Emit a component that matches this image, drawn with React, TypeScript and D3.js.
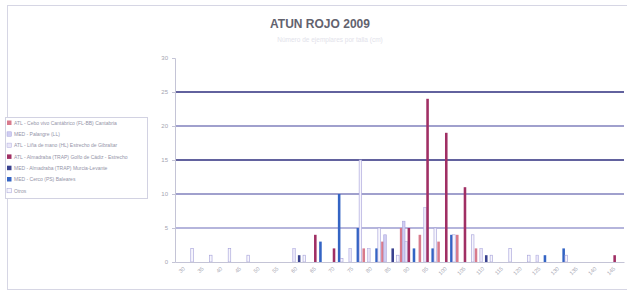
import React, { useEffect, useRef } from 'react';
import * as d3 from 'd3';

// Fish sizes (cm) on the category axis
const categories = ['30', '35', '40', '45', '50', '55', '60', '65', '70', '75', '80', '85',
	'90', '95', '100', '105', '110', '115', '120', '125', '130', '135', '140', '145'];

const seriesNames = [
	'ATL - Cebo vivo Cantábrico (FL-BB) Cantabria',
	'MED - Palangre (LL)',
	'ATL - Liña de mano (HL) Estrecho de Gibraltar',
	'ATL - Almadraba (TRAP) Golfo de Cádiz - Estrecho',
	'MED - Almadraba (TRAP) Murcia-Levante',
	'MED - Cerco (PS) Baleares',
	'Otros',
];

const pinkValues = [0, 0, 0, 0, 0, 0, 0, 0, 0, 0, 2, 3, 5, 4, 3, 4, 2, 0, 0, 0, 0, 0, 0, 0];
const periwinkleValues = [0, 0, 0, 0, 0, 0, 0, 0, 0, 0, 0, 4, 6, 0, 0, 0, 0, 0, 0, 0, 0, 0, 0, 0];
const lavenderValues = [0, 0, 0, 0, 0, 0, 2, 0, 0, 2, 2, 0, 3, 8, 0, 0, 2, 0, 0, 1, 0, 0, 0, 0];
const crimsonValues = [0, 0, 0, 0, 0, 0, 0, 4, 2, 0, 0, 0, 5, 24, 19, 11, 0, 0, 0, 0, 0, 0, 0, 1];
const navyValues = [0, 0, 0, 0, 0, 0, 1, 0, 0, 0, 0, 2, 0, 0, 0, 0, 1, 0, 0, 0, 0, 0, 0, 0];
const blueValues = [0, 0, 0, 0, 0, 0, 0, 3, 10, 5, 2, 0, 2, 2, 4, 0, 0, 0, 0, 1, 2, 0, 0, 0];
const whiteValues = [2, 1, 2, 1, 0, 0, 1, 0, 0.5, 15, 5, 1, 0, 5, 4, 4, 1, 2, 1, 0, 1, 0, 0, 0];

const yTicks = [0, 5, 10, 15, 20, 25, 30];

const seriesValues = [pinkValues, periwinkleValues, lavenderValues, crimsonValues,
	navyValues, blueValues, whiteValues];
const seriesFill = ['#d87a8c', '#cfcdf2', '#e9e6f8', '#a02f64', '#3a428f', '#3464c4', '#f7f6fd'];
const seriesStroke = [null, '#a9a5dc', '#b2aee0', null, null, null, '#a29ed8'];

const FONT = '"Liberation Sans", Arial, sans-serif';

const drawChart = (node) => {
	const svg = d3.select(node);
	svg.selectAll('*').remove();

	const left = 175;
	const right = 624;
	const top = 58;
	const bottom = 262;

	svg.append('rect').attr('x', 7.5)
		.attr('y', 5.5)
		.attr('width', 640)
		.attr('height', 284)
		.attr('fill', '#fff')
		.attr('stroke', '#d6d6e4');

	svg.append('text').attr('x', 320)
		.attr('y', 28)
		.attr('text-anchor', 'middle')
		.attr('font-family', FONT)
		.attr('font-weight', 'bold')
		.attr('font-size', 12)
		.attr('fill', '#62626e')
		.text('ATUN ROJO 2009');

	svg.append('text').attr('x', 330)
		.attr('y', 42)
		.attr('text-anchor', 'middle')
		.attr('font-family', FONT)
		.attr('font-size', 6.5)
		.attr('fill', '#e2e2ea')
		.text('Número de ejemplares por talla (cm)');

	const x = d3.scaleBand().domain(categories)
		.range([left, right])
		.paddingInner(0.04)
		.paddingOuter(0.02);
	const xs = d3.scaleBand().domain(d3.range(seriesValues.length))
		.range([0, x.bandwidth()]);
	const y = d3.scaleLinear().domain([0, 30])
		.range([bottom, top]);

	// horizontal gridlines
	const gridColor = (v) => (v === 5 ? '#9c9cd0' : v % 10 === 5 ? '#62629e' : '#8080bc');
	svg.append('g').selectAll('line')
		.data(yTicks.filter((v) => v > 0 && v < 30))
		.enter()
		.append('line')
		.attr('x1', left)
		.attr('x2', right)
		.attr('y1', (d) => y(d))
		.attr('y2', (d) => y(d))
		.attr('stroke', gridColor)
		.attr('stroke-width', (d) => (d % 10 === 5 && d > 5 ? 1.8 : 1.3));

	const yAxis = svg.append('g').attr('transform', `translate(${ left },0)`)
		.call(d3.axisLeft(y).tickValues(yTicks)
			.tickSize(3)
			.tickPadding(4));
	yAxis.select('.domain').attr('stroke', '#c4c4d6');
	yAxis.selectAll('line').attr('stroke', '#c4c4d6');
	yAxis.selectAll('text').attr('font-family', FONT)
		.attr('font-size', 6)
		.attr('fill', '#a4a4b0');

	// bars
	seriesValues.forEach((values, s) => {
		svg.append('g').selectAll('rect')
			.data(values.map((v, i) => ({ v, c: categories[i] })).filter((d) => d.v > 0))
			.enter()
			.append('rect')
			.attr('x', (d) => x(d.c) + xs(s))
			.attr('y', (d) => y(d.v))
			.attr('width', xs.bandwidth())
			.attr('height', (d) => bottom - y(d.v))
			.attr('fill', seriesFill[s])
			.attr('stroke', seriesStroke[s] || 'none')
			.attr('stroke-width', 0.6);
	});

	const xAxis = svg.append('g').attr('transform', `translate(0,${ bottom })`)
		.call(d3.axisBottom(x).tickSize(0)
			.tickPadding(0));
	xAxis.select('.domain').attr('stroke', '#c4c4d6');
	xAxis.selectAll('text').attr('font-family', FONT)
		.attr('font-size', 5.5)
		.attr('fill', '#a4a4b0')
		.attr('text-anchor', 'end')
		.attr('dy', 0)
		.attr('transform', 'translate(1,7) rotate(-45)');

	// legend
	const legend = svg.append('g').attr('transform', 'translate(5,117)');
	legend.append('rect').attr('x', 0.5)
		.attr('y', 0.5)
		.attr('width', 142)
		.attr('height', 81)
		.attr('fill', '#fff')
		.attr('stroke', '#d2d2e2');
	const item = legend.selectAll('g.item').data(seriesNames)
		.enter()
		.append('g')
		.attr('transform', (d, i) => `translate(2,${ 6 + i * 11.3 })`);
	item.append('rect').attr('x', 0)
		.attr('y', -2.5)
		.attr('width', 4.5)
		.attr('height', 4.5)
		.attr('fill', (d, i) => seriesFill[i])
		.attr('stroke', (d, i) => seriesStroke[i] || 'none')
		.attr('stroke-width', 0.5);
	item.append('text').attr('x', 7)
		.attr('y', 1.8)
		.attr('font-family', FONT)
		.attr('font-size', 5)
		.attr('fill', '#9494a8')
		.text((d) => d);
};

const App = () => {
	const ref = useRef(null);

	useEffect(() => drawChart(ref.current), []);

	return (
		<svg ref={ ref } width={ 627 } height={ 295 }
			style={ { position: 'absolute', left: 0, top: 0, background: '#fff' } }/>
	);
};

export default App;
